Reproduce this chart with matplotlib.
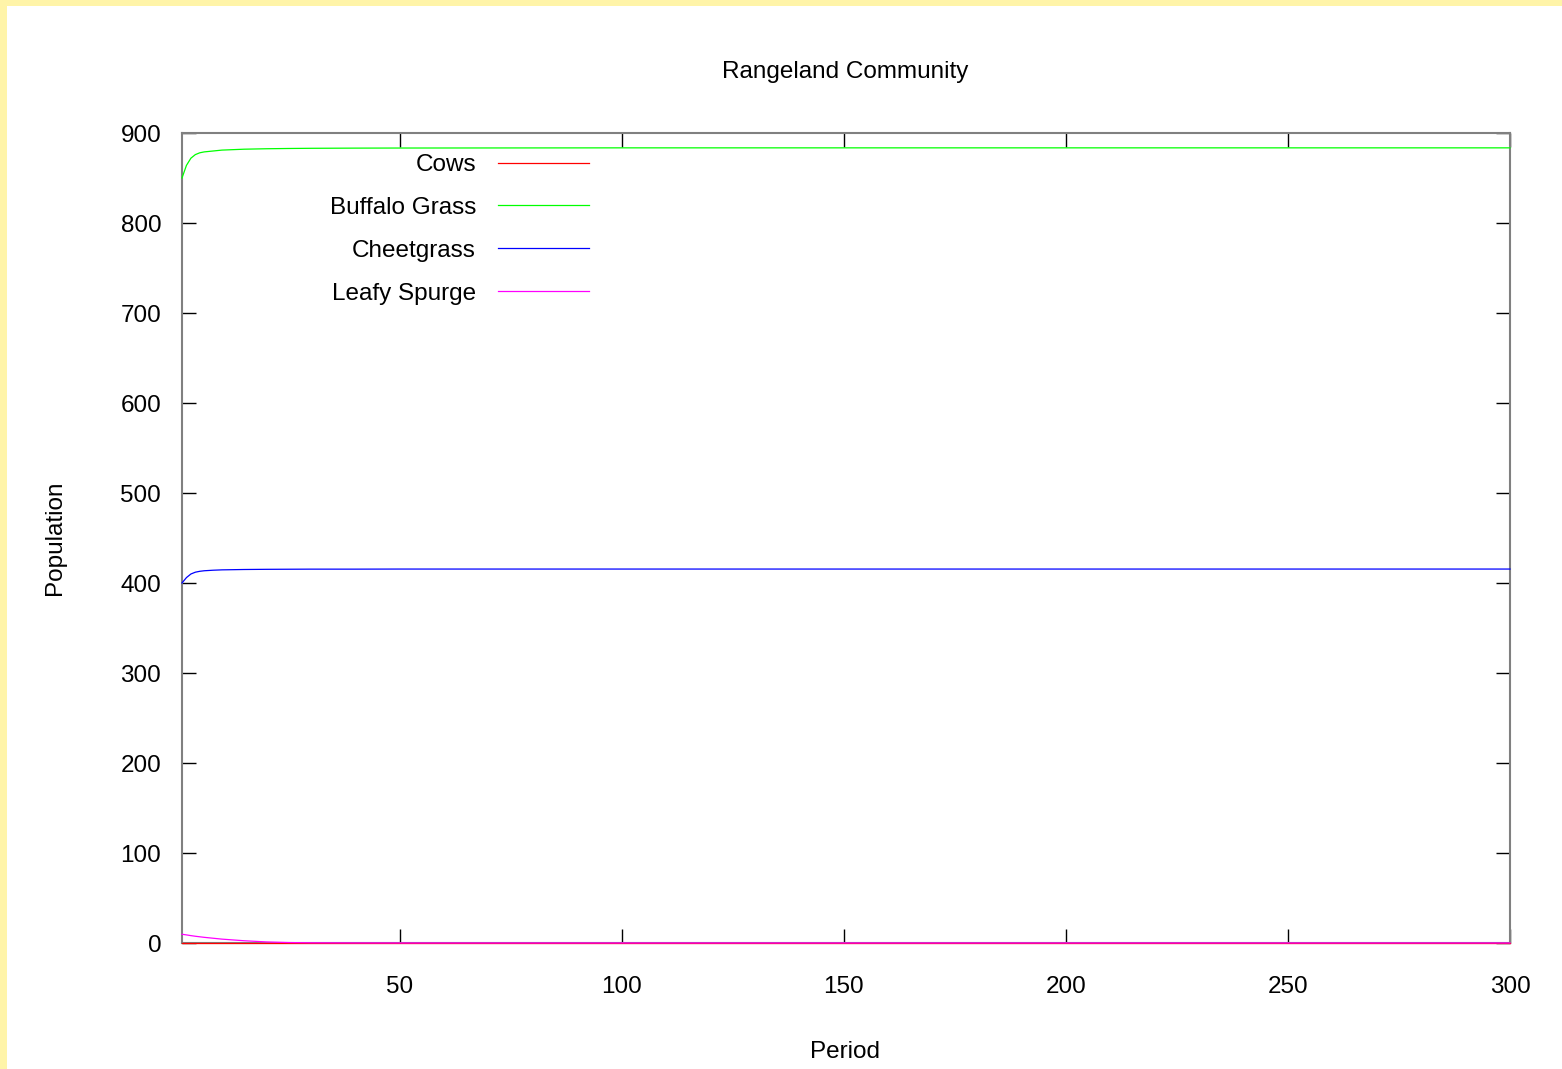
import matplotlib.pyplot as plt
from matplotlib.patches import Rectangle

plt.rcParams['font.family'] = ['Liberation Sans', 'DejaVu Sans']

# Population by period (read at the sampled periods)
period = [1, 2, 3, 4, 5, 6, 8, 10, 15, 20, 25, 30, 40, 50, 75, 100, 150, 200, 250, 300]
cows = [0, 0, 0, 0, 0, 0, 0, 0, 0, 0, 0, 0, 0, 0, 0, 0, 0, 0, 0, 0]
buffalo_grass = [850, 864, 872, 876, 878, 879, 880, 881, 882, 882.5, 882.8, 883, 883.2, 883.3,
                 883.4, 883.5, 883.5, 883.5, 883.5, 883.5]
cheetgrass = [400, 406, 410, 412, 413, 413.6, 414.2, 414.6, 415, 415.2, 415.3, 415.4, 415.4, 415.5,
              415.5, 415.5, 415.5, 415.5, 415.5, 415.5]
leafy_spurge = [9.7, 9.0, 8.2, 7.5, 6.9, 6.3, 5.3, 4.3, 2.5, 1.2, 0.5, 0.2, 0.05, 0.01,
                0, 0, 0, 0, 0, 0]

series = [('Cows', cows, '#ff0000'),
          ('Buffalo Grass', buffalo_grass, '#00ff00'),
          ('Cheetgrass', cheetgrass, '#0000ff'),
          ('Leafy Spurge', leafy_spurge, '#ff00ff')]

FS = 17.5
W, H = 1562, 1069
fig = plt.figure(figsize=(W / 100, H / 100), dpi=100)
fig.patch.set_facecolor('#fff4a8')
# white page inside the yellow margin, kept behind the axes
fig.patches.append(Rectangle((7 / W, 0), 1, 1 - 6 / H, transform=fig.transFigure,
                             facecolor='white', edgecolor='none', zorder=-10))

ax = fig.add_axes([182 / W, 1 - 943 / H, (1510 - 182) / W, (943 - 133) / H])
ax.set_facecolor('white')

for name, vals, col in series:
    ax.plot(period, vals, color=col, lw=0.9, label=name, clip_on=False, zorder=3)

ax.set_xlim(1, 300)
ax.set_ylim(0, 900)
ax.set_xticks([50, 100, 150, 200, 250, 300])
ax.set_yticks(range(0, 901, 100))
ax.tick_params(direction='in', length=10, width=1, color='black', labelsize=FS,
               top=True, right=True)
ax.tick_params(axis='y', pad=15)
ax.tick_params(axis='x', pad=24)
for s in ax.spines.values():
    s.set_color('#808080')
    s.set_linewidth(1.5)

fig.text(845 / W, 1 - 72 / H, 'Rangeland Community', ha='center', va='center', fontsize=FS)
fig.text(845 / W, 1 - 1052 / H, 'Period', ha='center', va='center', fontsize=FS)
fig.text(55 / W, 1 - 538 / H, 'Population', ha='center', va='center', rotation=90, fontsize=FS)

ax.legend(loc='upper right', bbox_to_anchor=((589 - 182) / 1328, (943 - 154) / 810),
          frameon=False, markerfirst=False, fontsize=FS, borderpad=0, borderaxespad=0,
          handlelength=3.75, handletextpad=0.9, labelspacing=0.86)

fig.savefig('out.png', dpi=100, facecolor=fig.get_facecolor())
